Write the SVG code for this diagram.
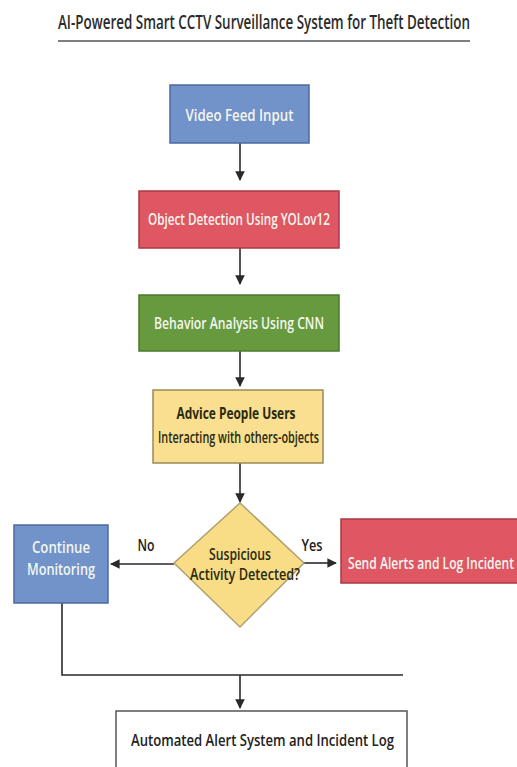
<svg xmlns="http://www.w3.org/2000/svg" width="517" height="767" viewBox="0 0 517 767">
<style>
text{font-family:"Open Sans","Liberation Sans",sans-serif;font-weight:600;}
.t{font-size:19px;fill:#2b2b2b;}
.w{font-size:17px;fill:#f3f6ee;text-anchor:middle;}
.d{font-size:16px;fill:#2a2a10;text-anchor:middle;}
.l{font-size:16px;fill:#222;text-anchor:middle;}
.ln{fill:none;stroke:#2a2a2a;stroke-width:1.6;}
</style>
<defs>
<marker id="ah" viewBox="0 0 10 10" refX="9" refY="5" markerWidth="6" markerHeight="6" orient="auto-start-reverse">
<path d="M0,0 L10,5 L0,10 z" fill="#2a2a2a"/>
</marker>
</defs>
<rect width="517" height="767" fill="#ffffff"/>
<g id="title">
<text class="t" x="58" y="29" textLength="412" lengthAdjust="spacingAndGlyphs">AI-Powered Smart CCTV Surveillance System for Theft Detection</text>
<line x1="58" y1="41" x2="470" y2="41" stroke="#555" stroke-width="1.5"/>
</g>
<g id="connectors">
<line class="ln" x1="240" y1="143" x2="240" y2="180" marker-end="url(#ah)"/>
<line class="ln" x1="240" y1="248" x2="240" y2="284" marker-end="url(#ah)"/>
<line class="ln" x1="240" y1="351" x2="240" y2="386" marker-end="url(#ah)"/>
<line class="ln" x1="240" y1="463" x2="240" y2="502" marker-end="url(#ah)"/>
<line class="ln" x1="174" y1="564" x2="111" y2="564" marker-end="url(#ah)"/>
<line class="ln" x1="304" y1="563" x2="336" y2="563" marker-end="url(#ah)"/>
<polyline class="ln" points="62,603 62,675 403,675"/>
<line class="ln" x1="240" y1="675" x2="240" y2="708" marker-end="url(#ah)"/>
<text class="l" x="146" y="551" textLength="17" lengthAdjust="spacingAndGlyphs">No</text>
<text class="l" x="312" y="551" textLength="21" lengthAdjust="spacingAndGlyphs">Yes</text>
</g>
<g id="video-feed">
<rect x="170" y="85" width="139" height="58" fill="#7292ca" stroke="#4d6aa0" stroke-width="1.5"/>
<text class="w" x="239.5" y="121" textLength="108" lengthAdjust="spacingAndGlyphs">Video Feed Input</text>
</g>
<g id="object-detection">
<rect x="139" y="191" width="200" height="57" fill="#df5763" stroke="#a83a44" stroke-width="1.5"/>
<text class="w" x="239" y="225" textLength="182" lengthAdjust="spacingAndGlyphs">Object Detection Using YOLov12</text>
</g>
<g id="behavior-analysis">
<rect x="139" y="295" width="200" height="56" fill="#679a3f" stroke="#4b7a2b" stroke-width="1.5"/>
<text class="w" x="239" y="329" textLength="170" lengthAdjust="spacingAndGlyphs">Behavior Analysis Using CNN</text>
</g>
<g id="advice-people">
<rect x="153" y="390" width="170" height="73" fill="#f9df8f" stroke="#9a8a5a" stroke-width="1.5"/>
<text class="d" x="236" y="419" font-weight="bold" style="font-weight:700" textLength="119" lengthAdjust="spacingAndGlyphs">Advice People  Users</text>
<text class="d" x="238.5" y="443" textLength="161" lengthAdjust="spacingAndGlyphs">Interacting with others-objects</text>
</g>
<g id="decision">
<polygon points="240,503 304,563 240,627 174,563" fill="#f8dc86" stroke="#b0a070" stroke-width="1.5"/>
<text class="d" x="240" y="560" textLength="62" lengthAdjust="spacingAndGlyphs">Suspicious</text>
<text class="d" x="245" y="580" textLength="110" lengthAdjust="spacingAndGlyphs">Activity Detected?</text>
</g>
<g id="continue-monitoring">
<rect x="14" y="525" width="94" height="78" fill="#7292ca" stroke="#4d6aa0" stroke-width="1.5"/>
<text class="w" x="61" y="553" textLength="58" lengthAdjust="spacingAndGlyphs">Continue</text>
<text class="w" x="61" y="575" textLength="68" lengthAdjust="spacingAndGlyphs">Monitoring</text>
</g>
<g id="send-alerts">
<rect x="341" y="519" width="185" height="64" fill="#df5763" stroke="#a83a44" stroke-width="1.5"/>
<text class="w" x="348" y="569" style="text-anchor:start" textLength="166" lengthAdjust="spacingAndGlyphs">Send Alerts and Log Incident</text>
</g>
<g id="automated-alert">
<rect x="116" y="711" width="291" height="70" fill="#ffffff" stroke="#555" stroke-width="1.5"/>
<text class="l" x="262.5" y="746" style="font-size:17px" textLength="263" lengthAdjust="spacingAndGlyphs">Automated Alert System and Incident Log</text>
</g>
</svg>
